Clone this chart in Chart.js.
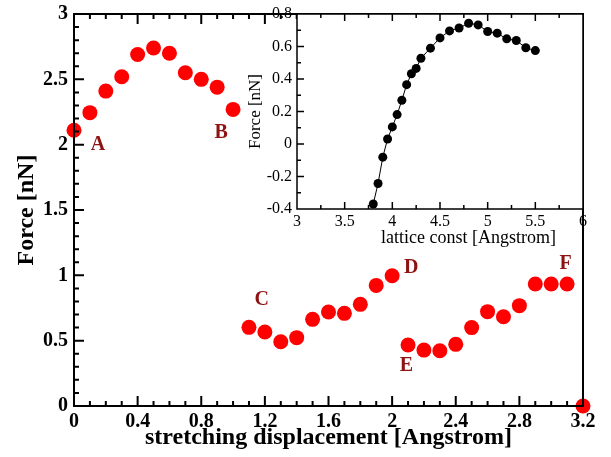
<!DOCTYPE html>
<html>
<head>
<meta charset="utf-8">
<script src="https://cdn.jsdelivr.net/npm/chart.js@4.4.0/dist/chart.umd.min.js"></script>
<style>
  html, body { margin: 0; padding: 0; background: #fff; }
  #wrap { position: relative; width: 611px; height: 457px; }
  #main { position: absolute; left: 0; top: 0; }
  #inset { position: absolute; left: 240px; top: 0; }
</style>
</head>
<body>
<div id="wrap">
  <canvas id="main" width="611" height="457"></canvas>
  <canvas id="inset" width="371" height="252"></canvas>
</div>
<script>
// ---- Data ---------------------------------------------------------------

// main plot: force vs stretching displacement
const STRETCH_X = [
    0, 0.1, 0.2, 0.3, 0.4, 0.5, 0.6, 0.7, 0.8, 0.9, 1.0,
    1.1, 1.2, 1.3, 1.4, 1.5, 1.6, 1.7, 1.8, 1.9, 2.0,
    2.1, 2.2, 2.3, 2.4, 2.5, 2.6, 2.7, 2.8, 2.9, 3.0, 3.1, 3.2,
];
const STRETCH_FORCE = [
    2.11, 2.245, 2.41, 2.52, 2.69, 2.74, 2.70, 2.55, 2.50, 2.44, 2.27,
    0.602, 0.566, 0.492, 0.523, 0.663, 0.719, 0.709, 0.778, 0.923, 0.997,
    0.467, 0.428, 0.423, 0.472, 0.60, 0.722, 0.683, 0.768, 0.934, 0.934, 0.934, 0,
];

// letters marking the stages
const STAGE_LABELS = ['A', 'B', 'C', 'D', 'E', 'F'];
const STAGE_LABEL_X = [0.15, 0.925, 1.18, 2.12, 2.09, 3.09];
const STAGE_LABEL_Y = [2.0, 2.09, 0.81, 1.06, 0.31, 1.09];

// inset: force vs lattice constant
const LATTICE_CONST = [
    3.8, 3.85, 3.9, 3.95, 4.0, 4.05, 4.1, 4.15, 4.2, 4.25, 4.3,
    4.4, 4.5, 4.6, 4.7, 4.8, 4.9, 5.0, 5.1, 5.2, 5.3, 5.4, 5.5,
];
const LATTICE_FORCE = [
    -0.369, -0.243, -0.081, 0.031, 0.105, 0.181, 0.269, 0.365, 0.432, 0.465, 0.528,
    0.59, 0.653, 0.696, 0.714, 0.743, 0.733, 0.692, 0.682, 0.647, 0.637, 0.592, 0.575,
];

const SERIF = "'Liberation Serif', 'DejaVu Serif', serif";

// ---- Helpers ------------------------------------------------------------

function isMultiple(v, step) {
    const r = v / step;
    return Math.abs(r - Math.round(r)) < 1e-6;
}

// label only every `major`, leave minor ticks blank
function tickLabel(major) {
    return (value) => {
        const v = Math.round(value * 1000) / 1000;
        return isMultiple(v, major) ? String(v) : '';
    };
}

// drop the automatic label overhang so layout.padding decides the plot box
function fixBox(size) {
    return (s) => {
        if (s.isHorizontal()) s.height = size; else s.width = size;
        s.paddingTop = 0; s.paddingBottom = 0; s.paddingLeft = 0; s.paddingRight = 0;
    };
}

// put the context back to a plain state before drawing our own strokes
function resetCtx(ctx) {
    ctx.setTransform(1, 0, 0, 1, 0, 0);
    ctx.setLineDash([]);
    ctx.lineDashOffset = 0;
    ctx.globalAlpha = 1;
    ctx.globalCompositeOperation = 'source-over';
    ctx.shadowColor = 'rgba(0,0,0,0)';
    ctx.shadowBlur = 0;
    ctx.filter = 'none';
    ctx.lineCap = 'butt';
    ctx.lineJoin = 'miter';
}

// xmgrace-like frame with inward ticks (bottom, top, left)
function makeFrame(id, cfg) {
    return {
        id,
        beforeDatasetsDraw(chart) {
            if (!cfg.fill) return;
            const ctx = chart.ctx;
            const a = chart.chartArea;
            ctx.save();
            resetCtx(ctx);
            ctx.fillStyle = cfg.fill;
            ctx.fillRect(a.left, a.top, a.right - a.left, a.bottom - a.top);
            ctx.restore();
        },
        afterDatasetsDraw(chart) {
            const ctx = chart.ctx;
            const a = chart.chartArea;
            const x = chart.scales.x;
            const y = chart.scales.y;
            ctx.save();
            resetCtx(ctx);
            ctx.strokeStyle = 'rgb(0,0,0)';
            ctx.lineWidth = cfg.lineWidth;
            ctx.beginPath();
            const nx = Math.round((cfg.xMax - cfg.xMin) / cfg.xStep);
            for (let i = 0; i <= nx; i++) {
                const v = cfg.xMin + i * cfg.xStep;
                const px = x.getPixelForValue(v);
                const len = isMultiple(v, cfg.xMajor) ? cfg.major : cfg.minor;
                ctx.moveTo(px, a.bottom);
                ctx.lineTo(px, a.bottom - len);
                ctx.moveTo(px, a.top);
                ctx.lineTo(px, a.top + len);
            }
            const ny = Math.round((cfg.yMax - cfg.yMin) / cfg.yStep);
            for (let i = 0; i <= ny; i++) {
                const v = cfg.yMin + i * cfg.yStep;
                const py = y.getPixelForValue(v);
                const len = isMultiple(v, cfg.yMajor) ? cfg.major : cfg.minor;
                ctx.moveTo(a.left, py);
                ctx.lineTo(a.left + len, py);
            }
            ctx.moveTo(a.left, a.top);
            ctx.lineTo(a.right, a.top);
            ctx.lineTo(a.right, a.bottom);
            ctx.lineTo(a.left, a.bottom);
            ctx.closePath();
            ctx.stroke();
            ctx.restore();
        },
    };
}

const stageLetters = {
    id: 'stageLetters',
    afterDatasetsDraw(chart) {
        const ctx = chart.ctx;
        const x = chart.scales.x;
        const y = chart.scales.y;
        ctx.save();
        ctx.fillStyle = '#8e1414';
        ctx.font = `bold 20px ${SERIF}`;
        ctx.textAlign = 'center';
        ctx.textBaseline = 'middle';
        STAGE_LABELS.forEach((s, i) => {
            ctx.fillText(s, x.getPixelForValue(STAGE_LABEL_X[i]), y.getPixelForValue(STAGE_LABEL_Y[i]));
        });
        ctx.restore();
    },
};

// inset x title sits right of centre in the original
const insetXTitle = {
    id: 'insetXTitle',
    afterDraw(chart) {
        const ctx = chart.ctx;
        const a = chart.chartArea;
        const x = chart.scales.x;
        ctx.save();
        ctx.fillStyle = '#000';
        ctx.font = `18px ${SERIF}`;
        ctx.textAlign = 'center';
        ctx.textBaseline = 'middle';
        ctx.fillText('lattice const [Angstrom]', x.getPixelForValue(4.8), a.bottom + 29);
        ctx.restore();
    },
};

// ---- Main chart ---------------------------------------------------------

const boldTicks = { family: SERIF, weight: 'bold', size: 20 };
const boldTitle = { family: SERIF, weight: 'bold', size: 24 };

new Chart(document.getElementById('main'), {
    type: 'scatter',
    data: {
        datasets: [{
            data: STRETCH_X.map((x, i) => ({ x, y: STRETCH_FORCE[i] })),
            backgroundColor: '#ff0000',
            borderWidth: 0,
            pointRadius: 7.5,
            clip: false,
        }],
    },
    options: {
        responsive: false,
        animation: false,
        events: [],
        layout: { padding: { top: 14, right: 28, left: 0, bottom: 0 } },
        plugins: {
            legend: { display: false },
            tooltip: { enabled: false },
        },
        scales: {
            x: {
                type: 'linear', min: 0, max: 3.2,
                ticks: {
                    stepSize: 0.1, autoSkip: false, maxRotation: 0, padding: 4,
                    color: '#000', font: boldTicks, callback: tickLabel(0.4),
                },
                grid: { display: false, drawTicks: false },
                border: { display: true, color: '#000', width: 2 },
                title: {
                    display: true, text: 'stretching displacement [Angstrom]',
                    color: '#000', font: boldTitle, padding: { top: 0, bottom: 5 },
                },
                afterFit: fixBox(51),
            },
            y: {
                type: 'linear', min: 0, max: 3,
                ticks: {
                    stepSize: 0.1, autoSkip: false, padding: 6,
                    color: '#000', font: boldTicks, callback: tickLabel(0.5),
                },
                grid: { display: false, drawTicks: false },
                border: { display: true, color: '#000', width: 2 },
                title: {
                    display: true, text: 'Force [nN]',
                    color: '#000', font: boldTitle, padding: { top: 12, bottom: 0 },
                },
                afterFit: fixBox(74),
            },
        },
    },
    plugins: [
        makeFrame('mainFrame', {
            lineWidth: 2, major: 10, minor: 5,
            xMin: 0, xMax: 3.2, xStep: 0.1, xMajor: 0.4,
            yMin: 0, yMax: 3, yStep: 0.1, yMajor: 0.5,
        }),
        stageLetters,
    ],
});

// ---- Inset chart --------------------------------------------------------

const plainTicks = { family: SERIF, size: 16 };

new Chart(document.getElementById('inset'), {
    type: 'scatter',
    data: {
        datasets: [{
            data: LATTICE_CONST.map((x, i) => ({ x, y: LATTICE_FORCE[i] })),
            showLine: true,
            borderColor: '#000',
            borderWidth: 1,
            backgroundColor: '#000',
            pointBorderWidth: 0,
            pointRadius: 4.5,
            clip: false,
        }],
    },
    options: {
        responsive: false,
        animation: false,
        events: [],
        layout: { padding: { top: 14, right: 28, left: 0, bottom: 0 } },
        plugins: {
            legend: { display: false },
            tooltip: { enabled: false },
        },
        scales: {
            x: {
                type: 'linear', min: 3, max: 6,
                ticks: {
                    stepSize: 0.25, autoSkip: false, maxRotation: 0, padding: 3,
                    color: '#000', font: plainTicks, callback: tickLabel(0.5),
                },
                grid: { display: false, drawTicks: false },
                border: { display: false },
                afterFit: fixBox(43),
            },
            y: {
                type: 'linear', min: -0.4, max: 0.8,
                ticks: {
                    stepSize: 0.1, autoSkip: false, padding: 5,
                    color: '#000', font: plainTicks, callback: tickLabel(0.2),
                },
                grid: { display: false, drawTicks: false },
                border: { display: false },
                title: {
                    display: true, text: 'Force [nN]',
                    color: '#000', font: { family: SERIF, size: 17 }, padding: { top: 5, bottom: 0 },
                },
                afterFit: fixBox(57),
            },
        },
    },
    plugins: [
        makeFrame('insetFrame', {
            lineWidth: 1.5, major: 7, minor: 4, fill: '#fff',
            xMin: 3, xMax: 6, xStep: 0.25, xMajor: 0.5,
            yMin: -0.4, yMax: 0.8, yStep: 0.1, yMajor: 0.2,
        }),
        insetXTitle,
    ],
});
</script>
</body>
</html>
